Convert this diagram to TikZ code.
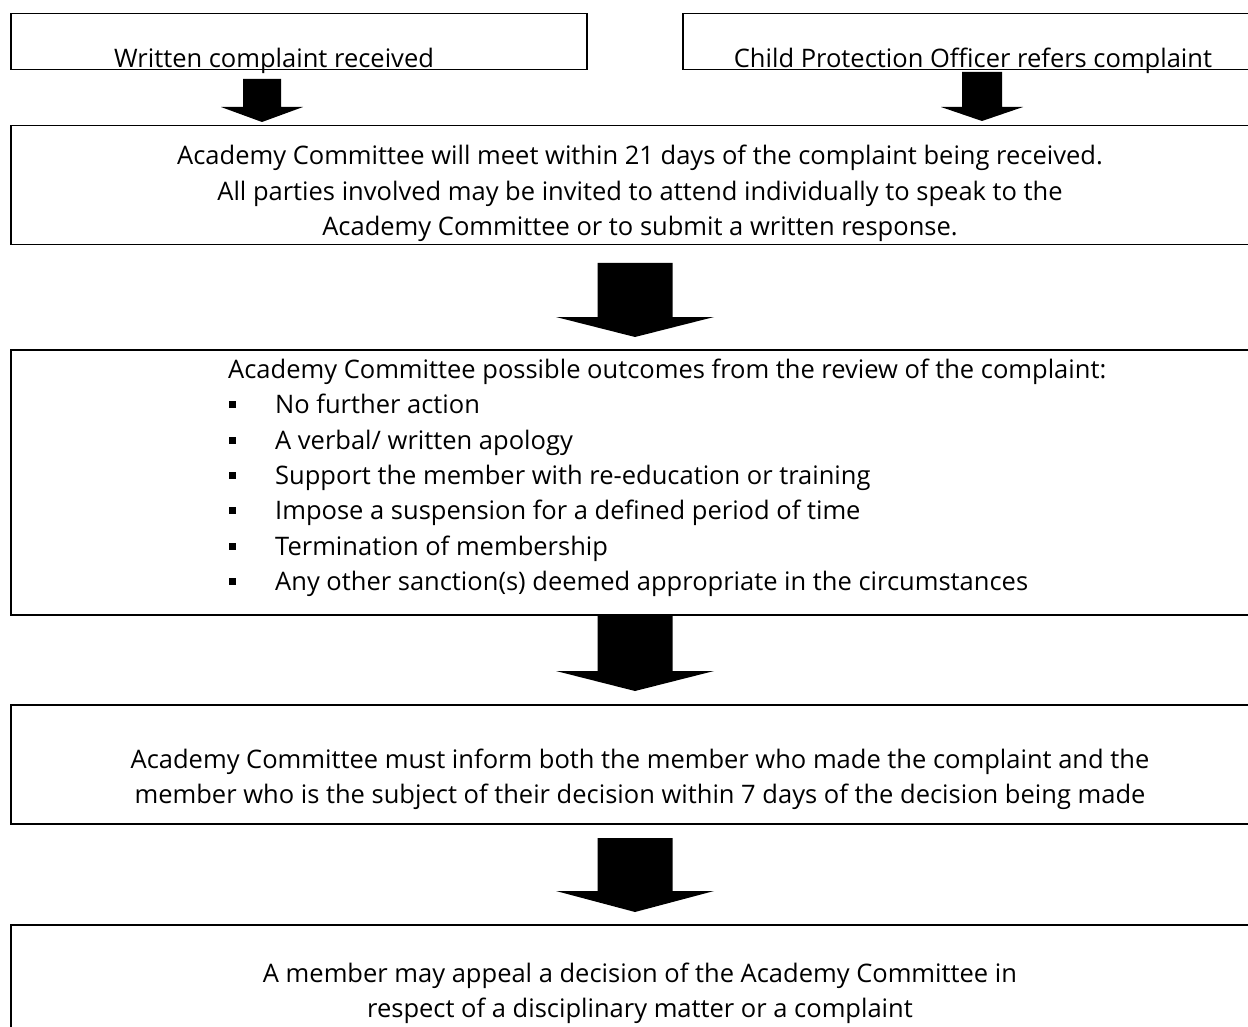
\documentclass[tikz,border=0pt]{standalone}
\usepackage{fontspec}
\setmainfont{Open Sans}
\newcommand\blockdown[6]{% cx, shaft half, head half, top, base, tip
  \fill (#1-#2,#4) -- (#1+#2,#4) -- (#1+#2,#5) -- (#1+#3,#5) -- (#1,#6) -- (#1-#3,#5) -- (#1-#2,#5) -- cycle;}
\begin{document}
\begin{tikzpicture}[x=1pt,y=-1pt,
  box/.style={draw, line width=1.5pt, inner sep=0, anchor=north west},
  txt/.style={font=\fontsize{25.5}{30}\selectfont, inner sep=0, anchor=base},
  bul/.style={fill=black, inner sep=0, minimum size=7pt}]
\useasboundingbox (0,0) rectangle (1248,1027);
\clip (0,0) rectangle (1248,1027);
\fill[white] (0,0) rectangle (1248,1027);
% boxes
\node[box, minimum width=576, minimum height=56] (b1) at (10,13) {};
\node[box, minimum width=600, minimum height=56] (b2) at (682,13) {};
\node[box, minimum width=1260, minimum height=119] (b3) at (10,125) {};
\node[box, minimum width=1260, minimum height=265] (b4) at (10,349) {};
\node[box, minimum width=1260, minimum height=119] (b5) at (10,704) {};
\node[box, minimum width=1260, minimum height=140] (b6) at (10,924) {};
% texts
\node[txt] (t1) at (274,68) {Written complaint received};
\node[txt] (t2) at (973,68) {Child Protection Officer refers complaint};
\node[txt] (t3a) at (640,165) {Academy Committee will meet within 21 days of the complaint being received.};
\node[txt] (t3b) at (640,201) {All parties involved may be invited to attend individually to speak to the};
\node[txt] (t3c) at (640,236) {Academy Committee or to submit a written response.};
\node[txt, anchor=base west] (t4) at (228,378) {Academy Committee possible outcomes from the review of the complaint:};
\foreach \i/\yy/\s in {1/413/{No further action},
  2/449/{A verbal/ written apology},
  3/484/{Support the member with re-education or training},
  4/519/{Impose a suspension for a defined period of time},
  5/555/{Termination of membership},
  6/590/{Any other sanction(s) deemed appropriate in the circumstances}}{
  \node[bul] (bu\i) at (232,\yy-9) {};
  \node[txt, anchor=base west] (it\i) at (275,\yy) {\s};
}
\node[txt] (t5a) at (640,768) {Academy Committee must inform both the member who made the complaint and the};
\node[txt] (t5b) at (640,803) {member who is the subject of their decision within 7 days of the decision being made};
\node[txt] (t6a) at (640,982) {A member may appeal a decision of the Academy Committee in};
\node[txt] (t6b) at (640,1017) {respect of a disciplinary matter or a complaint};
% block arrows
\blockdown{262}{19}{41}{79}{107}{122}
\blockdown{982}{20}{41}{72}{107}{121}
\blockdown{635}{37.5}{79}{263}{317}{337}
\blockdown{635}{37.5}{79}{614}{671}{691}
\blockdown{635}{37.5}{79}{838}{891}{912}
\end{tikzpicture}
\end{document}
